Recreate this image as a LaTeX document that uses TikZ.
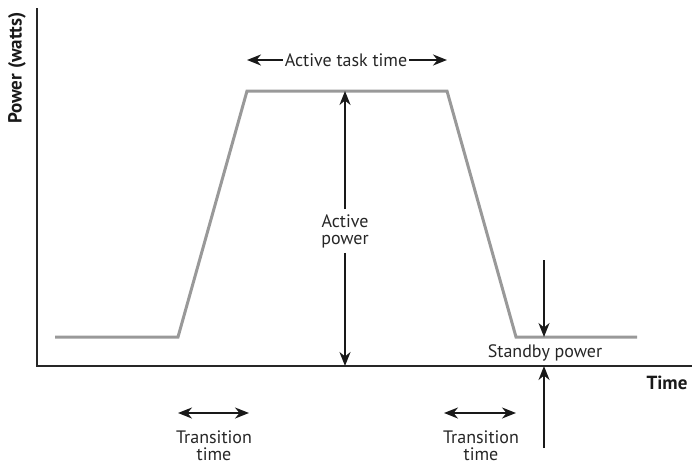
\documentclass[tikz,border=0pt]{standalone}
\usepackage{fontspec}
\setmainfont{PT Sans}
\usetikzlibrary{arrows.meta}
\begin{document}
\begin{tikzpicture}[x=1pt,y=-1pt,
  axis/.style={line width=1.2pt,draw=black!85},
  curve/.style={line width=3pt,draw=black!40,line join=miter},
  dim/.style={line width=2pt,draw=black!90,-{Stealth[length=14pt,width=11pt,inset=4.5pt]}},
  dimboth/.style={line width=2pt,draw=black!90,{Stealth[length=14pt,width=11pt,inset=4.5pt]}-{Stealth[length=14pt,width=11pt,inset=4.5pt]}},
  lbl/.style={font=\fontsize{18}{17}\selectfont,text=black!85,align=center,inner sep=2pt},
  blbl/.style={font=\fontsize{19}{20}\selectfont\bfseries,text=black!90,inner sep=1pt}]
\useasboundingbox (0,0) rectangle (692,466);
% axes
\coordinate (ytop) at (37,8);
\coordinate (orig) at (37,366);
\coordinate (xend) at (692,366);
\draw[axis] (ytop) -- (orig) -- (xend);
\node[blbl,rotate=90] (ylab) at (17,68) {Power (watts)};
\node[blbl] (xlab) at (667,383) {Time};
% curve
\coordinate (c0) at (55,337);
\coordinate (c1) at (178,337);
\coordinate (c2) at (247,91);
\coordinate (c3) at (447,91);
\coordinate (c4) at (516,337);
\coordinate (c5) at (637,337);
\draw[curve] (c0) -- (c1) -- (c2) -- (c3) -- (c4) -- (c5);
% active task time
\node[lbl] (att) at (346,60) {Active task time};
\coordinate (attL) at (247,60);
\coordinate (attR) at (447,60);
\draw[dim] (att.west) -- (attL);
\draw[dim] (att.east) -- (attR);
% active power
\node[lbl,inner sep=5pt] (ap) at (345,231) {Active\\power};
\coordinate (apT) at (345,91);
\coordinate (apB) at (345,366);
\draw[dim] (ap.north) -- (apT);
\draw[dim] (ap.south) -- (apB);
% standby
\node[lbl] (sp) at (545,353) {Standby power};
\coordinate (sdTop) at (544,260);
\coordinate (sdBot) at (544,337);
\coordinate (suTop) at (544,366);
\coordinate (suBot) at (544,448);
\draw[dim] (sdTop) -- (sdBot);
\draw[dim] (suBot) -- (suTop);
% transition times
\coordinate (t1a) at (178,413);
\coordinate (t1b) at (249,413);
\draw[dimboth] (t1a) -- (t1b);
\node[lbl] (tt1) at (214,446) {Transition\\time};
\coordinate (t2a) at (444,413);
\coordinate (t2b) at (516,413);
\draw[dimboth] (t2a) -- (t2b);
\node[lbl] (tt2) at (481,446) {Transition\\time};
\end{tikzpicture}
\end{document}
